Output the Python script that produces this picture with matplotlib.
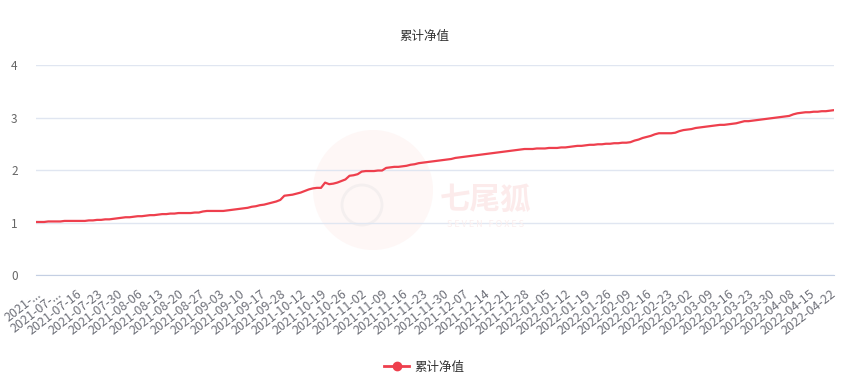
import matplotlib
matplotlib.use("Agg")
import matplotlib.pyplot as plt
from matplotlib.patches import Circle
from matplotlib.transforms import IdentityTransform

plt.rcParams['font.family'] = ['Noto Sans CJK SC', 'DejaVu Sans']

# x axis labels (one every 5 trading days)
dates = ["2021-...", "2021-07-...", "2021-07-16", "2021-07-23", "2021-07-30",
         "2021-08-06", "2021-08-13", "2021-08-20", "2021-08-27", "2021-09-03",
         "2021-09-10", "2021-09-17", "2021-09-28", "2021-10-12", "2021-10-19",
         "2021-10-26", "2021-11-02", "2021-11-09", "2021-11-16", "2021-11-23",
         "2021-11-30", "2021-12-07", "2021-12-14", "2021-12-21", "2021-12-28",
         "2022-01-05", "2022-01-12", "2022-01-19", "2022-01-26", "2022-02-09",
         "2022-02-16", "2022-02-23", "2022-03-02", "2022-03-09", "2022-03-16",
         "2022-03-23", "2022-03-30", "2022-04-08", "2022-04-15", "2022-04-22"]
label_step = 5

# daily cumulative NAV, one row per labelled week
nav = [
    1.01, 1.01, 1.01, 1.02, 1.02,
    1.02, 1.02, 1.03, 1.03, 1.03,
    1.03, 1.03, 1.03, 1.04, 1.04,
    1.05, 1.05, 1.06, 1.06, 1.07,
    1.08, 1.09, 1.10, 1.10, 1.11,
    1.12, 1.12, 1.13, 1.14, 1.14,
    1.15, 1.16, 1.16, 1.17, 1.17,
    1.18, 1.18, 1.18, 1.18, 1.19,
    1.19, 1.21, 1.22, 1.22, 1.22,
    1.22, 1.22, 1.23, 1.24, 1.25,
    1.26, 1.27, 1.28, 1.30, 1.31,
    1.33, 1.34, 1.36, 1.38, 1.40,
    1.43, 1.51, 1.52, 1.53, 1.55,
    1.57, 1.60, 1.63, 1.65, 1.66,
    1.66, 1.76, 1.73, 1.74, 1.76,
    1.79, 1.82, 1.89, 1.90, 1.92,
    1.97, 1.98, 1.98, 1.98, 1.99,
    1.99, 2.04, 2.05, 2.06, 2.06,
    2.07, 2.08, 2.10, 2.11, 2.13,
    2.14, 2.15, 2.16, 2.17, 2.18,
    2.19, 2.20, 2.21, 2.23, 2.24,
    2.25, 2.26, 2.27, 2.28, 2.29,
    2.30, 2.31, 2.32, 2.33, 2.34,
    2.35, 2.36, 2.37, 2.38, 2.39,
    2.40, 2.40, 2.40, 2.41, 2.41,
    2.41, 2.42, 2.42, 2.42, 2.43,
    2.43, 2.44, 2.45, 2.46, 2.46,
    2.47, 2.48, 2.48, 2.49, 2.49,
    2.50, 2.50, 2.51, 2.51, 2.52,
    2.52, 2.53, 2.56, 2.58, 2.61,
    2.63, 2.65, 2.68, 2.70, 2.70,
    2.70, 2.70, 2.71, 2.74, 2.76,
    2.77, 2.78, 2.80, 2.81, 2.82,
    2.83, 2.84, 2.85, 2.86, 2.86,
    2.87, 2.88, 2.89, 2.91, 2.93,
    2.93, 2.94, 2.95, 2.96, 2.97,
    2.98, 2.99, 3.00, 3.01, 3.02,
    3.03, 3.06, 3.08, 3.09, 3.10,
    3.10, 3.11, 3.11, 3.12, 3.12,
    3.13, 3.14,
]

red = '#ee3f4d'

fig = plt.figure(figsize=(8.48, 3.9), dpi=100)
ax = fig.add_axes([36 / 848, 1 - 275 / 390, 798 / 848, 210 / 390])

# faint watermark (logo circle + brand text) behind the line
ax.add_patch(Circle((373, 200), 60, transform=IdentityTransform(),
                    facecolor='#fef7f6', edgecolor='none', zorder=0.2,
                    clip_on=False))
ax.add_patch(Circle((362, 185), 20, transform=IdentityTransform(),
                    facecolor='none', edgecolor='#f4efef', linewidth=2,
                    zorder=0.3, clip_on=False))
fig.text(0.572, 1 - 200 / 390, '七尾狐', fontsize=22, color='#fcebeb',
         ha='center', va='center', fontweight='bold', zorder=0)
fig.text(0.572, 1 - 225 / 390, 'S E V E N   F O X E S', fontsize=6.5,
         color='#fbeeee', ha='center', va='center', zorder=0)

x = list(range(len(nav)))
ax.plot(x, nav, color=red, linewidth=1.6, label='累计净值', zorder=3)

ax.set_xlim(0, len(nav) - 1)
ax.set_ylim(0, 4)
ax.set_yticks([0, 1, 2, 3, 4])
ax.set_xticks([i * label_step for i in range(len(dates))])
ax.set_xticklabels(dates, rotation=38, ha='right', rotation_mode='anchor')

ax.grid(axis='y', color='#e0e6f1', linewidth=1)
ax.set_axisbelow(True)
for s in ['top', 'right', 'left']:
    ax.spines[s].set_visible(False)
ax.spines['bottom'].set_color('#c4cfe3')
ax.tick_params(axis='y', length=0, pad=18, labelsize=8.5, labelcolor='#666666')
ax.tick_params(axis='x', length=0, pad=9, labelsize=9, labelcolor='#6e7079')
for lbl in ax.get_yticklabels():
    lbl.set_horizontalalignment('left')

fig.text(0.5, 1 - 36 / 390, '累计净值', ha='center', va='center',
         fontsize=9, color='#333333')

handles = [plt.Line2D([], [], color=red, linewidth=2, marker='o', markersize=6)]
fig.legend(handles, ['累计净值'], loc='center', bbox_to_anchor=(0.5, 1 - 367 / 390),
           frameon=False, fontsize=9, handlelength=2, handletextpad=0.4,
           labelcolor='#333333')

fig.savefig('out.png', dpi=100)
